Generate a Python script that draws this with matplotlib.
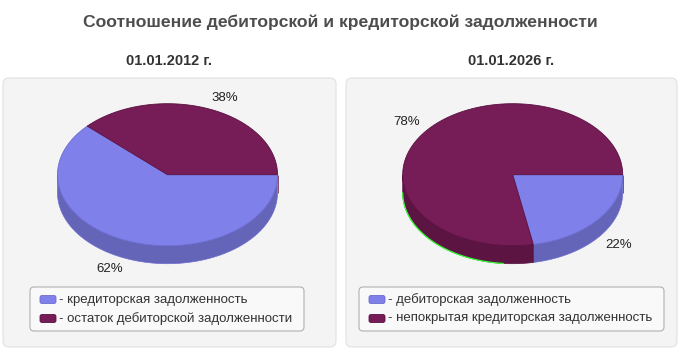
import numpy as np
import matplotlib
matplotlib.use("Agg")
import matplotlib.pyplot as plt
from matplotlib.patches import FancyBboxPatch, Polygon

plt.rcParams['font.family'] = ['Liberation Sans', 'DejaVu Sans']

title = "Соотношение дебиторской и кредиторской задолженности"
dates = ["01.01.2012 г.", "01.01.2026 г."]
labels_2012 = ["кредиторская задолженность", "остаток дебиторской задолженности"]
values_2012 = [62, 38]
labels_2026 = ["дебиторская задолженность", "непокрытая кредиторская задолженность"]
values_2026 = [22, 78]

top_colors = ["#8080ea", "#761c57"]
side_colors = ["#6464b8", "#5c1443"]
edge_colors = ["#6c6cd0", "#5a1040"]


def drawPie(ax, cx, cy, rx, ry, depth, values, green=False):
    '''
    Pseudo 3d pie, slices go clockwise from 3 o'clock.
    '''
    total = float(sum(values))
    start = 0.0
    wedges = []
    for v in values:
        span = 360.0 * v / total
        wedges.append((start - span, start))
        start -= span

    # side walls first
    for i, (a1, a2) in enumerate(wedges):
        t = np.radians(np.linspace(a1, a2, 800))
        vis = np.sin(t) <= 1e-9
        runs = []
        cur = []
        for tt, ok in zip(t, vis):
            if ok:
                cur.append(tt)
            elif cur:
                runs.append(cur)
                cur = []
        if cur:
            runs.append(cur)
        for run in runs:
            run = np.array(run)
            xs = cx + rx * np.cos(run)
            ys = cy - ry * np.sin(run)
            pts = list(zip(xs, ys)) + list(zip(xs[::-1], ys[::-1] + depth))
            ax.add_patch(Polygon(pts, closed=True, fc=side_colors[i],
                                 ec=edge_colors[i], lw=0.5))
            if green and i == 1:
                sel = run <= np.radians(-95)
                ax.plot(xs[sel], ys[sel] + depth, color="#33ff33", lw=0.9)

    # top faces
    for i, (a1, a2) in enumerate(wedges):
        t = np.radians(np.linspace(a1, a2, 400))
        xs = cx + rx * np.cos(t)
        ys = cy - ry * np.sin(t)
        pts = [(cx, cy)] + list(zip(xs, ys))
        ax.add_patch(Polygon(pts, closed=True, fc=top_colors[i],
                             ec=edge_colors[i], lw=0.6))

    # percent labels
    for i, (a1, a2) in enumerate(wedges):
        m = np.radians((a1 + a2) / 2)
        lx = cx + 120 * np.cos(m)
        ly = cy - 82.5 * np.sin(m)
        if np.sin(m) < 0:
            ly += depth
        ha = "left" if np.cos(m) > 0 else "right"
        ax.text(lx, ly, "%d%%" % round(100 * values[i] / total),
                ha=ha, va="center", fontsize=9.5, color="#222222")


def drawLegend(ax, x0, y0, w, h, labels):
    ax.add_patch(FancyBboxPatch((x0, y0), w, h,
                                boxstyle="round,pad=0,rounding_size=4",
                                fc="#f9f9f9", ec="#b0b0b0", lw=0.8))
    for i, lab in enumerate(labels):
        yy = y0 + 12.5 + i * 19
        ax.add_patch(FancyBboxPatch((x0 + 10, yy - 4), 16, 8,
                                    boxstyle="round,pad=0,rounding_size=2",
                                    fc=top_colors[i], ec=edge_colors[i], lw=0.6))
        ax.text(x0 + 29, yy, "- " + lab, ha="left", va="center",
                fontsize=9.5, color="#333333")


fig = plt.figure(figsize=(6.8, 3.5), dpi=100)
ax = fig.add_axes([0, 0, 1, 1])
ax.set_xlim(0, 680)
ax.set_ylim(350, 0)
ax.axis("off")

ax.text(340, 22, title, ha="center", va="center", fontsize=12.6,
        fontweight="bold", color="#4d4d4d")

panels = [(3, 336), (346, 677)]
for (px0, px1), d in zip(panels, dates):
    ax.text((px0 + px1) / 2, 61, d, ha="center", va="center", fontsize=10.5,
            fontweight="bold", color="#333333")
    ax.add_patch(FancyBboxPatch((px0, 78), px1 - px0, 269,
                                boxstyle="round,pad=0,rounding_size=6",
                                fc="#f4f4f4", ec="#e2e2e2", lw=0.8))

drawPie(ax, 167.5, 174.7, 110, 71, 18, values_2012)
drawPie(ax, 512.7, 174.7, 110, 71, 18, values_2026, green=True)

drawLegend(ax, 30, 287, 274, 44, labels_2012)
drawLegend(ax, 359, 287, 305, 44, labels_2026)

fig.savefig("out.png", dpi=100)
